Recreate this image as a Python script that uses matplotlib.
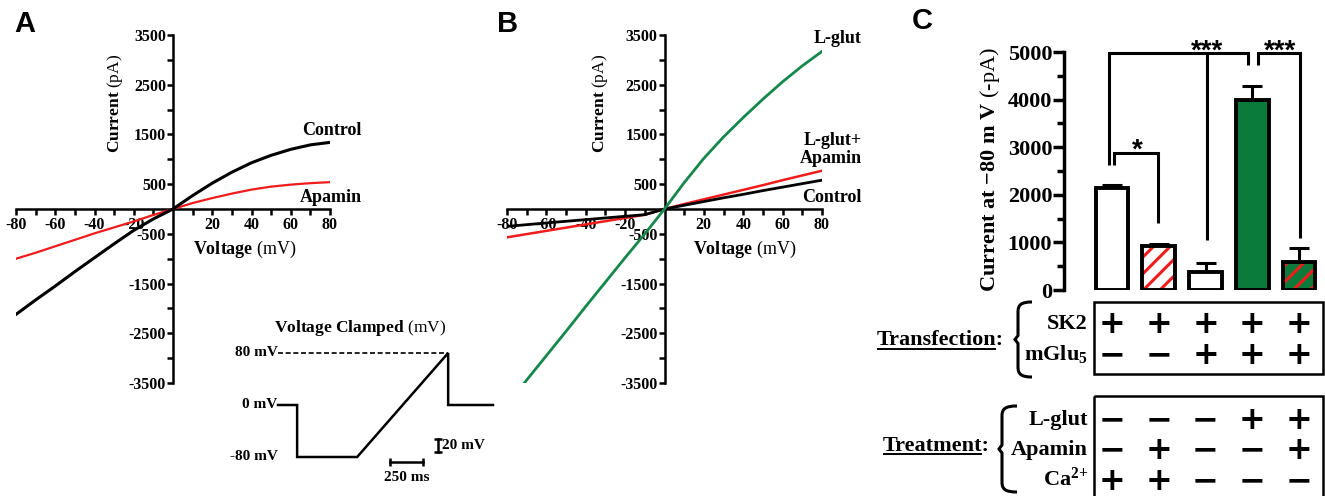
import numpy as np
import matplotlib
matplotlib.use('Agg')
import matplotlib.pyplot as plt
from matplotlib.path import Path
from matplotlib.patches import PathPatch, Rectangle
from matplotlib.ticker import FixedLocator, FixedFormatter

W, H = 1325, 496
plt.rcParams.update({
    'font.family': ['Liberation Serif', 'DejaVu Serif'],
    'font.weight': 'bold',
    'mathtext.fontset': 'custom',
    'mathtext.rm': 'Liberation Serif',
    'mathtext.bf': 'Liberation Serif:bold',
    'mathtext.it': 'Liberation Serif:italic',
    'hatch.linewidth': 2.2,
})

RED = '#f01c1c'
GREEN_LINE = '#14884a'
GREEN_BAR = '#0b7b3c'

# ---------------- data ----------------
voltage = [-80, -70, -60, -50, -40, -30, -20, -10, 0, 10, 20, 30, 40, 50, 60, 70, 80]
a_control = [-2120, -1830, -1550, -1260, -980, -700, -430, -200, 0, 270, 520, 740, 930, 1080, 1200, 1290, 1340]
a_apamin = [-1000, -880, -750, -620, -490, -370, -250, -120, 0, 120, 220, 310, 390, 450, 490, 520, 540]

b_control = [-350, -315, -280, -247, -214, -180, -147, -114, 0, 75, 150, 225, 295, 370, 440, 510, 580]
b_lglut = [-3950, -3440, -2950, -2460, -1960, -1470, -980, -500, 0, 530, 1020, 1450, 1840, 2210, 2560, 2880, 3170]
b_lglut_apamin = [-570, -505, -440, -375, -310, -245, -180, -115, 0, 100, 195, 290, 385, 480, 580, 675, 770]

iv_xticks = [-80, -60, -40, -20, 20, 40, 60, 80]
iv_xticklabels = ['-80', '-60', '-40', '-20', '20', '40', '60', '80']
iv_yticks = [-3500, -2500, -1500, -500, 500, 1500, 2500, 3500]
iv_yticklabels = ['-3500', '-2500', '-1500', '-500', '500', '1500', '2500', '3500']

proto_t = [0, 145, 145, 600, 1290, 1290, 1630]     # ms
proto_v = [0, 0, -80, -80, 80, 0, 0]                # mV

c_mean = [2140, 930, 370, 4000, 580]
c_sem = [65, 45, 190, 285, 310]
c_face = ['white', 'white', 'white', GREEN_BAR, GREEN_BAR]
c_hatch = [None, '//', None, None, '//']
c_yticks = [0, 1000, 2000, 3000, 4000, 5000]

row_sk2 = ['+', '+', '+', '+', '+']
row_mglu5 = ['-', '-', '+', '+', '+']
row_lglut = ['-', '-', '-', '+', '+']
row_apamin = ['-', '+', '-', '-', '+']
row_ca = ['+', '+', '-', '-', '-']

# ---------------- figure ----------------
fig = plt.figure(figsize=(W / 100, H / 100), dpi=100)


def px_axes(x0, y0, x1, y1, **kw):
    return fig.add_axes([x0 / W, 1 - y1 / H, (x1 - x0) / W, (y1 - y0) / H], **kw)


def iv_axes(x0, x1):
    ax = px_axes(x0, 35, x1, 383)
    ax.patch.set_alpha(0)
    ax.set_xlim(-80, 80)
    ax.set_ylim(-3500, 3500)
    for s in ['top', 'right']:
        ax.spines[s].set_visible(False)
    for s in ['left', 'bottom']:
        ax.spines[s].set_position(('data', 0))
        ax.spines[s].set_linewidth(1.8)
    ax.xaxis.set_major_locator(FixedLocator(iv_xticks))
    ax.xaxis.set_major_formatter(FixedFormatter(iv_xticklabels))
    ax.xaxis.set_minor_locator(FixedLocator([-70, -50, -30, -10, 10, 30, 50, 70]))
    ax.yaxis.set_major_locator(FixedLocator(iv_yticks))
    ax.yaxis.set_major_formatter(FixedFormatter(iv_yticklabels))
    ax.yaxis.set_minor_locator(FixedLocator([-3000, -2000, -1000, 1000, 2000, 3000]))
    ax.tick_params(which='both', direction='out', width=1.8, length=4)
    ax.tick_params(axis='x', labelsize=11.5, pad=1.5)
    ax.tick_params(axis='y', labelsize=11.5, pad=1)
    return ax


# ---- Panel A ----
axA = iv_axes(16, 330)
axA.plot(voltage, a_apamin, color=RED, lw=1.6, zorder=3)
axA.plot(voltage, a_control, color='black', lw=2.2, zorder=4)
axA.text(96.3, 1490, 'Control', ha='right', va='baseline', fontsize=13, clip_on=False)
axA.text(96.3, 140, 'Apamin', ha='right', va='baseline', fontsize=13, clip_on=False)
fig.text(115 / W, 1 - 103 / H, r'$\mathbf{Current}$ (pA)', rotation=90, ha='center', va='center',
         fontsize=12.5, weight='normal')
fig.text(245 / W, 1 - 249 / H, r'$\mathbf{Voltage}$ (mV)', ha='center', va='center',
         fontsize=13, weight='normal')

# inset: voltage protocol
axP = px_axes(278, 353, 493, 457)
axP.set_xlim(0, 1630)
axP.set_ylim(-80, 80)
axP.axis('off')
axP.plot(proto_t, proto_v, color='black', lw=1.8, clip_on=False, solid_joinstyle='miter')
axP.plot([proto_t[0], proto_t[4]], [80, 80], color='black', lw=1.2, ls=(0, (3, 1.6)), clip_on=False)
for v, lab in [(80, '80 mV'), (0, '0 mV'), (-80, '-80 mV')]:
    axP.text(-4, v, lab, ha='right', va='center', fontsize=11, clip_on=False)
axP.text(622, 118, r'$\mathbf{Voltage\ Clamped}$ (mV)', ha='center', va='center', fontsize=12.5,
         weight='normal', clip_on=False)
# scale bars
axP.plot([849, 1099], [-88, -88], color='black', lw=1.8, clip_on=False)
axP.plot([849, 1099], [-88, -88], ls='none', marker='|', ms=6, mew=1.8, color='black', clip_on=False)
axP.plot([1213, 1213], [-52, -72], color='black', lw=1.8, clip_on=False)
axP.plot([1213, 1213], [-52, -72], ls='none', marker='_', ms=6, mew=1.8, color='black', clip_on=False)
axP.text(1245, -62, '20 mV', ha='left', va='center', fontsize=11, clip_on=False)
axP.text(974, -111, '250 ms', ha='center', va='center', fontsize=11, clip_on=False)

# ---- Panel B ----
axB = iv_axes(507, 822)
axB.plot(voltage, b_lglut_apamin, color=RED, lw=1.8, zorder=3)
axB.plot(voltage, b_control, color='black', lw=2.0, zorder=4)
axB.plot(voltage, b_lglut, color=GREEN_LINE, lw=2.0, zorder=5)
axB.text(100.3, 3338, 'L-glut', ha='right', va='baseline', fontsize=13, clip_on=False)
axB.text(100.3, 1287, 'L-glut+', ha='right', va='baseline', fontsize=13, clip_on=False)
axB.text(100.3, 925, 'Apamin', ha='right', va='baseline', fontsize=13, clip_on=False)
axB.text(100.3, 150, 'Control', ha='right', va='baseline', fontsize=13, clip_on=False)
fig.text(600 / W, 1 - 103 / H, r'$\mathbf{Current}$ (pA)', rotation=90, ha='center', va='center',
         fontsize=12.5, weight='normal')
fig.text(745 / W, 1 - 249 / H, r'$\mathbf{Voltage}$ (mV)', ha='center', va='center',
         fontsize=13, weight='normal')

# ---- Panel C ----
axC = px_axes(1064, 52, 1325, 290)
axC.patch.set_alpha(0)
xs = np.arange(len(c_mean))
axC.set_xlim(-1.027, 4.556)
axC.set_ylim(0, 5000)
for s in ['top', 'right', 'bottom']:
    axC.spines[s].set_visible(False)
axC.spines['left'].set_linewidth(2.5)
axC.yaxis.set_major_locator(FixedLocator(c_yticks))
axC.yaxis.set_major_formatter(FixedFormatter([str(v) for v in c_yticks]))
axC.yaxis.set_minor_locator(FixedLocator([500, 1500, 2500, 3500, 4500]))
axC.set_xticks([])
axC.tick_params(axis='y', which='major', length=8, width=2.5, labelsize=16, pad=0.5)
axC.tick_params(axis='y', which='minor', length=5, width=2.5)

axC.errorbar(xs, c_mean, yerr=[np.zeros(len(c_mean)), c_sem], fmt='none', ecolor='black',
             elinewidth=2.2, capsize=7, capthick=2.2, zorder=2)
for i in xs:
    if c_hatch[i]:
        axC.bar(i, c_mean[i], width=0.7, color=c_face[i], edgecolor=RED, hatch=c_hatch[i],
                lw=0, zorder=3)
    else:
        axC.bar(i, c_mean[i], width=0.7, color=c_face[i], lw=0, zorder=3)
    axC.bar(i, c_mean[i], width=0.7, fill=False, edgecolor='black', lw=2.8, zorder=4)

bk = dict(color='black', lw=2.2, clip_on=False, solid_joinstyle='miter', solid_capstyle='butt')
axC.plot([-0.064, -0.064, 2.91, 2.91], [2630, 4970, 4970, 4730], **bk)
axC.plot([2.03, 2.03], [1050, 4970], **bk)
axC.plot([3.12, 3.12, 4.02, 4.02], [4730, 4970, 4970, 1090], **bk)
axC.plot([0.043, 0.043, 0.98, 0.98], [2630, 2870, 2870, 1400], **bk)
star = dict(ha='center', va='baseline', fontsize=20, family='Liberation Sans', weight='bold', clip_on=False)
axC.text(0.535, 2777, '*', **star)
axC.text(2.03, 4857, '***', **star)
axC.text(3.59, 4857, '***', **star)
fig.text(990 / W, 1 - 169 / H, r'$\mathbf{Current\ at\ {-}80\ m\ V}$ (-pA)', rotation=90,
         ha='center', va='center', fontsize=16, weight='normal')

# ---- table under panel C ----
ov = fig.add_axes([0, 0, 1, 1], zorder=-1)
ov.patch.set_alpha(0)
ov.set_xlim(0, W)
ov.set_ylim(H, 0)
ov.axis('off')

col_px = axC.transData.transform(np.column_stack([xs, np.zeros(len(xs))]))[:, 0]

ov.add_patch(Rectangle((1094, 302), 229, 72, fill=False, lw=1.8, ec='black'))
ov.add_patch(Rectangle((1094, 396), 229, 130, fill=False, lw=1.8, ec='black', clip_on=False))

rows = [('SK2', row_sk2, 322), (r'mGlu$_\mathbf{5}$', row_mglu5, 353),
        ('L-glut', row_lglut, 418), ('Apamin', row_apamin, 448), (r'Ca$^{\mathbf{2{+}}}$', row_ca, 479)]
for lab, vals, y in rows:
    ov.text(1088, y + 7, lab, ha='right', va='baseline', fontsize=16)
    for cx, v in zip(col_px, vals):
        ov.text(cx, y + 11, '+' if v == '+' else '\u2212', ha='center', va='baseline', fontsize=23,
                family='DejaVu Sans', weight='bold')


def brace(xr, xl, yt, yb, ry=10):
    ym = (yt + yb) / 2
    verts = [(xr, yt), (xl + 3, yt), (xl, yt + 3), (xl, yt + ry),
             (xl, ym - 4), (xl - 3, ym), (xl, ym + 4),
             (xl, yb - ry), (xl, yb - 3), (xl + 3, yb), (xr, yb)]
    codes = [Path.MOVETO, Path.CURVE4, Path.CURVE4, Path.CURVE4,
             Path.LINETO, Path.LINETO, Path.LINETO,
             Path.LINETO, Path.CURVE4, Path.CURVE4, Path.CURVE4]
    ov.add_patch(PathPatch(Path(verts, codes), fill=False, lw=2.2, ec='black', capstyle='butt'))


brace(1032, 1018, 302, 377)
brace(1017, 1002, 406, 492)

# group labels: measure the word (without colon) for the underline, then draw full text
ren = fig.canvas.get_renderer()
for word, x, yb, yl in [('Transfection', 877, 345, 348.5), ('Treatment', 883, 451, 454)]:
    tmp = ov.text(x, yb, word, ha='left', va='baseline', fontsize=16)
    bb = tmp.get_window_extent(ren)
    tmp.remove()
    ov.text(x, yb, word + ':', ha='left', va='baseline', fontsize=16)
    ov.plot([bb.x0, bb.x1 - 1], [yl, yl], color='black', lw=1.4, solid_capstyle='butt')

# panel letters
for x, y, L in [(14, 32, 'A'), (497, 32, 'B'), (912, 29, 'C')]:
    fig.text(x / W, 1 - y / H, L, ha='left', va='baseline', fontsize=21,
             family='Liberation Sans', weight='bold')

fig.savefig('out.png', dpi=100)
